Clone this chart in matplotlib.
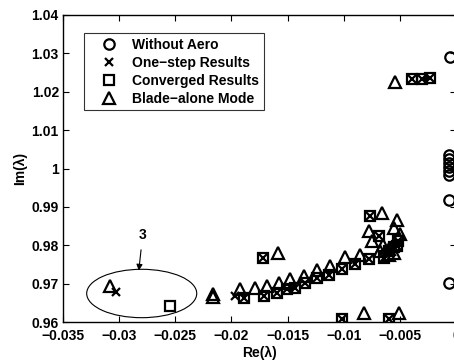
import matplotlib
matplotlib.use('Agg')
import matplotlib.pyplot as plt
from matplotlib.patches import Ellipse

plt.rcParams['font.family'] = ['Liberation Sans', 'DejaVu Sans']
plt.rcParams['font.weight'] = 'bold'

# --- data ---
aero_re = [-0.0005, -0.0006, -0.0006, -0.0006, -0.0006, -0.0006, -0.0006, -0.0006, -0.0006]
aero_im = [1.0291, 1.0035, 1.0025, 1.0015, 1.0005, 0.9993, 0.9984, 0.9918, 0.9702]

onestep_re = [-0.03028, -0.01966, -0.01891, -0.01713, -0.01594, -0.01505, -0.01431, -0.01342,
              -0.01238, -0.01134, -0.01016, -0.00897, -0.00778, -0.00644, -0.00764, -0.00526,
              -0.00689, -0.0060, -0.0055, -0.0052, -0.01715, -0.01016, -0.0060,
              -0.00392, -0.00303, -0.00232]
onestep_im = [0.96782, 0.96678, 0.96618, 0.96678, 0.96763, 0.96852, 0.96894, 0.97024,
              0.97154, 0.97225, 0.97373, 0.97504, 0.97634, 0.97676, 0.98762, 0.97981,
              0.98241, 0.9785, 0.9795, 0.9810, 0.97655, 0.9607, 0.9607,
              1.0233, 1.0234, 1.0235]

conv_re = [-0.02547, -0.01891, -0.01713, -0.01594, -0.01505, -0.01431, -0.01342, -0.01238,
           -0.01134, -0.01016, -0.00897, -0.00778, -0.00644, -0.00764, -0.00526, -0.00689,
           -0.0060, -0.0055, -0.0052, -0.01715, -0.01016, -0.0060,
           -0.00392, -0.00303, -0.00232]
conv_im = [0.96417, 0.96618, 0.96678, 0.96763, 0.96852, 0.96894, 0.97024, 0.97154,
           0.97225, 0.97373, 0.97504, 0.97634, 0.97676, 0.98762, 0.97981, 0.98241,
           0.9785, 0.9795, 0.9810, 0.97655, 0.9607, 0.9607,
           1.0233, 1.0234, 1.0235]

blade_re = [-0.03081, -0.02164, -0.02164, -0.01921, -0.01788, -0.01683, -0.01579, -0.01476,
            -0.01357, -0.01238, -0.0112, -0.00986, -0.00853, -0.00778, -0.00659, -0.00526,
            -0.00748, -0.0065, -0.0060, -0.0055, -0.0050, -0.0055, -0.0060, -0.0068,
            -0.01585, -0.00822, -0.00511, -0.00541]
blade_im = [0.96938, 0.9672, 0.9665, 0.96852, 0.96878, 0.96938, 0.97024, 0.97113,
            0.97199, 0.97347, 0.97459, 0.97694, 0.97746, 0.98371, 0.98833, 0.9865,
            0.98111, 0.9800, 0.9790, 0.9780, 0.9830, 0.9845, 0.9775, 0.9785,
            0.97798, 0.96242, 0.96242, 1.02262]

xticks = [-0.035, -0.03, -0.025, -0.02, -0.015, -0.01, -0.005, 0]
xtick_labels = ['\u22120.035', '\u22120.03', '\u22120.025', '\u22120.02', '\u22120.015',
                '\u22120.01', '\u22120.005', '0']
yticks = [0.96, 0.97, 0.98, 0.99, 1.0, 1.01, 1.02, 1.03, 1.04]
ytick_labels = ['0.96', '0.97', '0.98', '0.99', '1', '1.01', '1.02', '1.03', '1.04']

fig = plt.figure(figsize=(4.54, 3.62), dpi=100)
# axes runs slightly past the right edge, like the cropped original
ax = fig.add_axes([63 / 454, 1 - 322 / 362, (456 - 63) / 454, (322 - 15) / 362])

mk = dict(linestyle='none', markerfacecolor='none', markeredgecolor='black',
          markeredgewidth=1.6, color='black')
ax.plot(aero_re, aero_im, marker='o', markersize=7.5, label='Without Aero', **mk)
ax.plot(onestep_re, onestep_im, marker='x', markersize=6, label='One\u2212step Results', **mk)
ax.plot(conv_re, conv_im, marker='s', markersize=7, label='Converged Results', **mk)
ax.plot(blade_re, blade_im, marker='^', markersize=9, label='Blade\u2212alone Mode', **mk)

ax.add_patch(Ellipse((-0.02799, 0.96743), 0.0098, 0.01261, fill=False,
                     edgecolor='black', linewidth=0.8))
ax.annotate('3', xy=(-0.02825, 0.9734), xytext=(-0.0279, 0.9828),
            ha='center', va='center', fontsize=10, fontweight='bold',
            arrowprops=dict(arrowstyle='-|>', color='black', lw=0.8,
                            mutation_scale=9, shrinkA=4, shrinkB=0))

ax.set_xlim(-0.035, 0)
ax.set_ylim(0.96, 1.04)
ax.set_xticks(xticks)
ax.set_xticklabels(xtick_labels)
ax.set_yticks(yticks)
ax.set_yticklabels(ytick_labels)
ax.tick_params(direction='in', length=4, width=0.8, top=True, right=True,
               labelsize=10)
ax.tick_params(axis='x', pad=5)
ax.tick_params(axis='y', pad=3)
for sp in ax.spines.values():
    sp.set_linewidth(1.0)

ax.set_xlabel('Re(\u03bb)', fontsize=10, fontweight='bold', labelpad=2)
ax.set_ylabel('Im(\u03bb)', fontsize=10, fontweight='bold', labelpad=3)

leg = ax.legend(loc='upper left', bbox_to_anchor=(0.053, 0.94), fontsize=10,
                frameon=True, fancybox=False, handlelength=3.0, handletextpad=0.2,
                labelspacing=0.3, borderpad=0.3, borderaxespad=0)
leg.get_frame().set_edgecolor('black')
leg.get_frame().set_linewidth(0.8)

fig.savefig('out.png', dpi=100)
